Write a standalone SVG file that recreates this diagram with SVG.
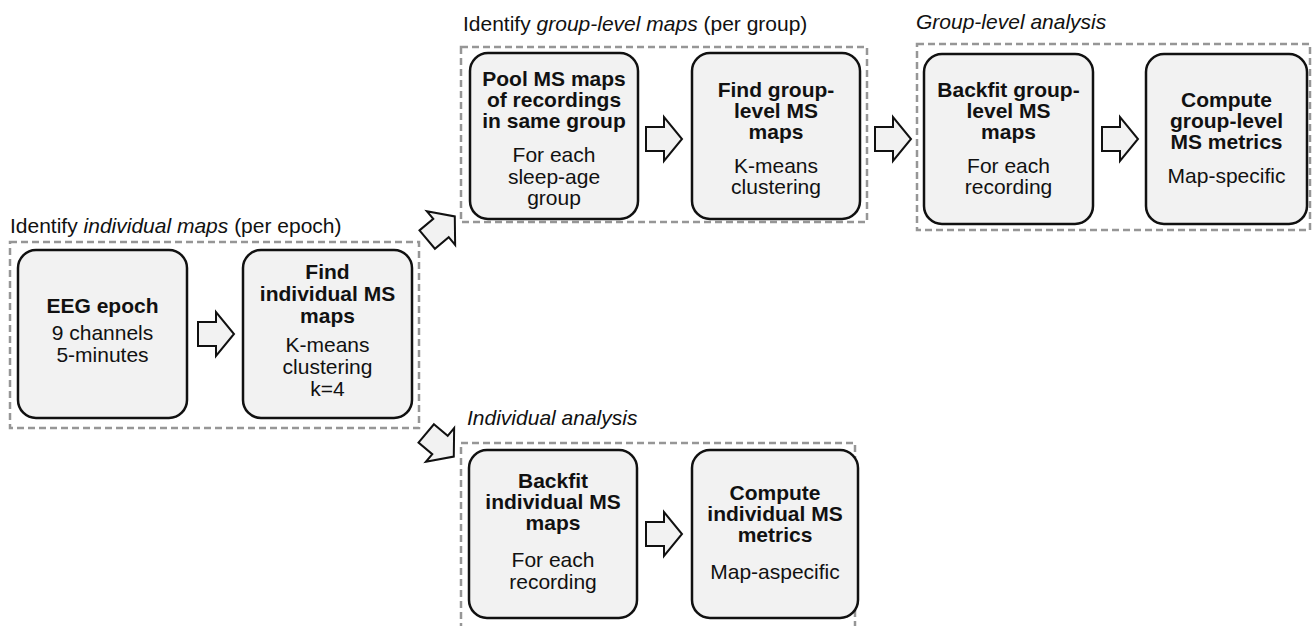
<svg xmlns="http://www.w3.org/2000/svg" width="1312" height="626" viewBox="0 0 1312 626">
  <style>
    text { font-family: "Liberation Sans", Arial, Helvetica, sans-serif; font-size: 21px; fill: #111; }
    .node rect { fill: #f2f2f2; stroke: #111; stroke-width: 2.5; }
    .node text { text-anchor: middle; }
    .b { font-weight: bold; }
    .frame { fill: none; stroke: #969696; stroke-width: 2.5; stroke-dasharray: 7 4; }
    .it { font-style: italic; }
    .blk { fill: #f2f2f2; stroke: #111; stroke-width: 2; stroke-linejoin: miter; }
  </style>
  <defs>
    <!-- hollow block arrow, centred on the head base, pointing right -->
    <path id="blk" d="M-18,-12 H0 V-22 L18,0 L0,22 V12 H-18 Z"/>
  </defs>
  <rect width="1312" height="626" fill="#ffffff"/>

  <!-- stage frames and their captions -->
  <g id="frames">
    <rect class="frame" x="10" y="242" width="409" height="186"/>
    <text x="10" y="233">Identify <tspan class="it">individual maps</tspan> (per epoch)</text>
    <rect class="frame" x="461" y="47" width="406" height="175"/>
    <text x="463" y="31">Identify <tspan class="it">group-level maps</tspan> (per group)</text>
    <rect class="frame" x="917" y="44" width="393" height="186"/>
    <text class="it" x="916" y="29">Group-level analysis</text>
    <rect class="frame" x="461" y="443" width="394" height="200"/>
    <text class="it" x="467" y="425">Individual analysis</text>
  </g>

  <!-- process steps -->
  <g id="eeg-epoch" class="node">
    <rect x="18" y="250" width="169" height="168" rx="18"/>
    <text class="b" x="102.5" y="313">EEG epoch</text>
    <text x="102.5" y="340">9 channels</text>
    <text x="102.5" y="362">5-minutes</text>
  </g>
  <g id="find-individual" class="node">
    <rect x="243" y="250" width="169" height="168" rx="18"/>
    <text class="b" x="327.5" y="279">Find</text>
    <text class="b" x="327.5" y="301">individual MS</text>
    <text class="b" x="327.5" y="323">maps</text>
    <text x="327.5" y="352">K-means</text>
    <text x="327.5" y="374">clustering</text>
    <text x="327.5" y="396">k=4</text>
  </g>
  <g id="pool-maps" class="node">
    <rect x="470" y="53" width="168" height="166" rx="18"/>
    <text class="b" x="554" y="86">Pool MS maps</text>
    <text class="b" x="554" y="107">of recordings</text>
    <text class="b" x="554" y="128">in same group</text>
    <text x="554" y="162">For each</text>
    <text x="554" y="184">sleep-age</text>
    <text x="554" y="205">group</text>
  </g>
  <g id="find-group" class="node">
    <rect x="692" y="53" width="168" height="166" rx="18"/>
    <text class="b" x="776" y="97">Find group-</text>
    <text class="b" x="776" y="118">level MS</text>
    <text class="b" x="776" y="139">maps</text>
    <text x="776" y="173">K-means</text>
    <text x="776" y="194">clustering</text>
  </g>
  <g id="backfit-group" class="node">
    <rect x="924" y="54" width="169" height="170" rx="18"/>
    <text class="b" x="1008.5" y="97">Backfit group-</text>
    <text class="b" x="1008.5" y="118">level MS</text>
    <text class="b" x="1008.5" y="139">maps</text>
    <text x="1008.5" y="173">For each</text>
    <text x="1008.5" y="194">recording</text>
  </g>
  <g id="compute-group" class="node">
    <rect x="1146" y="54" width="161" height="170" rx="18"/>
    <text class="b" x="1226.5" y="107">Compute</text>
    <text class="b" x="1226.5" y="128">group-level</text>
    <text class="b" x="1226.5" y="149">MS metrics</text>
    <text x="1226.5" y="183">Map-specific</text>
  </g>
  <g id="backfit-individual" class="node">
    <rect x="469" y="450" width="168" height="168" rx="18"/>
    <text class="b" x="553" y="488">Backfit</text>
    <text class="b" x="553" y="509">individual MS</text>
    <text class="b" x="553" y="530">maps</text>
    <text x="553" y="567">For each</text>
    <text x="553" y="589">recording</text>
  </g>
  <g id="compute-individual" class="node">
    <rect x="692" y="450" width="166" height="168" rx="18"/>
    <text class="b" x="775" y="500">Compute</text>
    <text class="b" x="775" y="521">individual MS</text>
    <text class="b" x="775" y="542">metrics</text>
    <text x="775" y="579">Map-aspecific</text>
  </g>

  <!-- connectors: block arrows between steps -->
  <g id="connectors">
    <use href="#blk" class="blk" transform="translate(216,334)"/>
    <use href="#blk" class="blk" transform="translate(664,139)"/>
    <use href="#blk" class="blk" transform="translate(893,139)"/>
    <use href="#blk" class="blk" transform="translate(1120,139)"/>
    <use href="#blk" class="blk" transform="translate(664,534)"/>
    <use href="#blk" class="blk" transform="translate(441,228) rotate(-40)"/>
    <use href="#blk" class="blk" transform="translate(440,445) rotate(40)"/>
  </g>
</svg>
